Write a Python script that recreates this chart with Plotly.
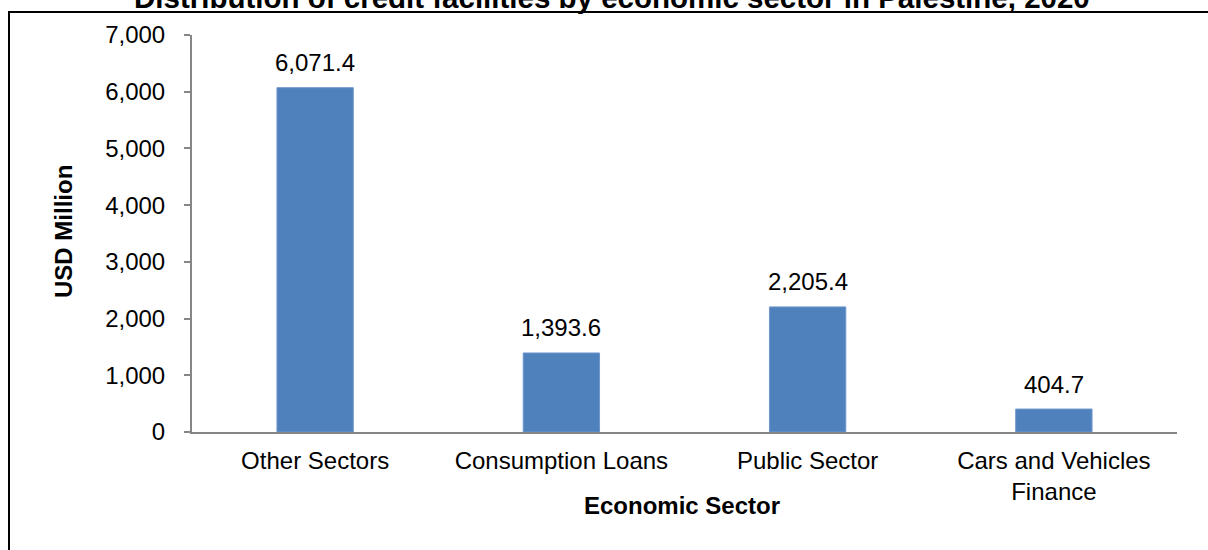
import plotly.graph_objects as go

categories = ["Other Sectors", "Consumption Loans", "Public Sector", "Cars and Vehicles<br>Finance"]
values = [6071.4, 1393.6, 2205.4, 404.7]
y_ticks = [0, 1000, 2000, 3000, 4000, 5000, 6000, 7000]
title_text = "Distribution of credit facilities by economic sector in Palestine, 2020"
y_title = "USD Million"
x_title = "Economic Sector"

FONT = "Arial, Liberation Sans, sans-serif"
L, R, T, B = 192, 31, 35, 118
W, H = 1208, 550
pw, ph = W - L - R, H - T - B

def px_x(p):
    return (p - L) / pw

def px_y(p):
    return (H - B - p) / ph

fig = go.Figure()
fig.add_trace(go.Bar(
    x=categories, y=values,
    marker=dict(color="#4F81BD", line=dict(color="#6F97CB", width=1)),
    width=0.31,
    hoverinfo="x+y",
))

annotations = []
for c, v in zip(categories, values):
    annotations.append(dict(
        x=c, y=v, xref="x", yref="y", text=f"{v:,.1f}", showarrow=False,
        yanchor="middle", yshift=25, font=dict(family=FONT, size=24, color="#000"),
    ))
annotations.append(dict(
    x=px_x(612), y=px_y(-2), xref="paper", yref="paper", text=f"<b>{title_text}</b>",
    showarrow=False, xanchor="center", yanchor="middle",
    font=dict(family=FONT, size=29.5, color="#000"),
))
annotations.append(dict(
    x=px_x(63), y=px_y(232), xref="paper", yref="paper", text=f"<b>{y_title}</b>",
    showarrow=False, textangle=-90, xanchor="center", yanchor="middle",
    font=dict(family=FONT, size=24, color="#000"),
))
annotations.append(dict(
    x=px_x(682), y=px_y(505), xref="paper", yref="paper", text=f"<b>{x_title}</b>",
    showarrow=False, xanchor="center", yanchor="middle",
    font=dict(family=FONT, size=24, color="#000"),
))

fig.update_layout(
    width=W, height=H,
    margin=dict(l=L, r=R, t=T, b=B, pad=0),
    paper_bgcolor="white", plot_bgcolor="white",
    showlegend=False,
    font=dict(family=FONT, size=24, color="#000"),
    annotations=annotations,
    shapes=[dict(
        type="rect", xref="paper", yref="paper",
        x0=px_x(9), x1=px_x(1260), y0=px_y(620), y1=px_y(12),
        line=dict(color="#000", width=2), fillcolor="rgba(0,0,0,0)", layer="above",
    )],
    bargap=0.69,
)
fig.update_xaxes(
    showline=True, linecolor="#868686", linewidth=2, showgrid=False,
    ticks="", tickfont=dict(family=FONT, size=24, color="#000"),
    ticklabelstandoff=6, zeroline=False,
)
fig.update_yaxes(
    range=[0, 7000], tickvals=y_ticks, tickformat=",d",
    showline=True, linecolor="#868686", linewidth=2, showgrid=False,
    ticks="outside", ticklen=6, tickcolor="#868686", tickwidth=2,
    tickfont=dict(family=FONT, size=24, color="#000"),
    ticklabelstandoff=14, zeroline=False,
)

fig.write_html(
    "out.html",
    config={"displayModeBar": False},
    post_script="document.body.style.margin='0';document.body.style.padding='0';document.body.style.overflow='hidden';",
)
